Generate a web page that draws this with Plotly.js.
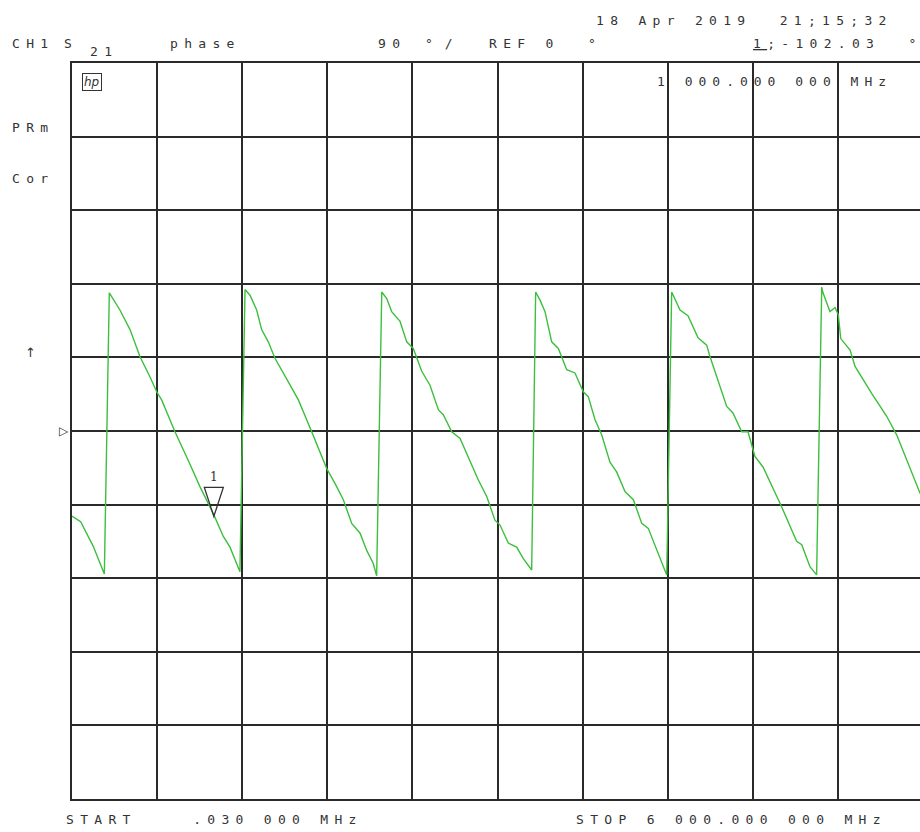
<!DOCTYPE html>
<html>
<head>
<meta charset="utf-8">
<script src="https://cdn.plot.ly/plotly-3.0.1.min.js"></script>
<style>html,body{margin:0;padding:0;background:#fff;}#chart{width:920px;height:832px;}</style>
</head>
<body>
<div id="chart"></div>
<script>
// Frequency (MHz) of each trace point
const freqMHz = [
  0.03, 61, 150, 228,
  263, 338, 409, 479, 550, 597, 632, 726, 820, 902, 996, 1067, 1114, 1184,
  1220, 1255, 1302, 1337, 1384, 1431, 1525, 1596, 1690, 1796, 1854, 1913, 1972, 2031, 2078, 2124, 2148,
  2184, 2219, 2254, 2313, 2360, 2406, 2466, 2524, 2583, 2618, 2677, 2736, 2806, 2865, 2924, 2982, 3018, 3076, 3135, 3182, 3241,
  3269, 3300, 3335, 3382, 3429, 3488, 3546, 3605, 3640, 3687, 3735, 3793, 3840, 3899, 3958, 4017, 4063, 4193,
  4228, 4287, 4343, 4414, 4475, 4498, 4616, 4660, 4722, 4766, 4815, 4872, 5004, 5109, 5145, 5203, 5250,
  5286, 5295, 5344, 5380, 5403, 5420, 5486, 5521, 5638, 5744, 5815, 5944, 5979, 6000
];
// S21 phase (degrees)
const phaseDeg = [
  -104, -111, -141, -175,
  169, 148, 124, 91, 66, 48, 38, -1, -36, -68, -101, -129, -142, -172,
  173, 166, 148, 124, 109, 89, 60, 38, -1, -46, -64, -84, -113, -125, -146, -162, -177,
  170, 162, 146, 134, 109, 101, 73, 56, 26, 20, -1, -9, -36, -60, -80, -109, -115, -137, -142, -156, -170,
  170, 160, 146, 109, 101, 75, 71, 48, 42, 14, -5, -38, -50, -74, -84, -113, -119, -176,
  170, 148, 141, 114, 105, 91, 30, 22, -1, -1, -31, -44, -93, -135, -139, -166, -176,
  176, 169, 146, 151, 142, 113, 99, 79, 46, 18, -5, -62, -76, -79
];
// Marker 1
const markerFreq = 1000;
const markerPhase = -102.03;

// Scale settings
const startMHz = 0.03, stopMHz = 6000;
const degPerDiv = 90, refDeg = 0;

const PL = 72, PT = 63, PW = 848, PH = 736;
const mono = 'DejaVu Sans Mono';
const txtColor = '#333';
function sp(t, ls){
  ls = ls || 6.3;
  return '<span style="letter-spacing:' + ls + 'px">' + t.slice(0, -1) + '</span>' + t.slice(-1);
}
function ann(text, px, py, opts){
  return Object.assign({
    text: text, xref: 'paper', yref: 'paper',
    x: (px - PL) / PW, y: (PT + PH - py) / PH,
    xanchor: 'left', yanchor: 'middle', showarrow: false,
    font: {family: mono, size: 13, color: txtColor}
  }, opts || {});
}

const annotations = [
  ann(sp('CH1'), 10, 44),
  ann(sp('S'), 62, 44),
  ann(sp('21'), 88, 52),
  ann(sp('phase'), 168, 44),
  ann(sp('90'), 376, 44),
  ann(sp('°/', 12), 423, 44),
  ann(sp('REF 0  °'), 487, 44),
  ann(sp('18 Apr 2019  21;15;32'), 594, 21),
  ann('<span style="letter-spacing:6.3px"><span style="text-decoration:underline">1</span>;-102.03  </span>°', 751, 44),
  ann(sp('1 000.000 000 MHz', 6.0), 655, 82),
  ann(sp('PRm'), 10, 128),
  ann(sp('Cor'), 10, 178),
  ann('↑', 23, 352, {font: {family: 'DejaVu Sans', size: 13, color: txtColor}}),
  ann('▷', 71, 431, {xanchor: 'right', font: {family: 'DejaVu Sans', size: 12, color: txtColor}}),
  ann('<i>hp</i>', 82, 82, {font: {family: 'DejaVu Sans', size: 12, color: txtColor}, bordercolor: txtColor, borderwidth: 1, borderpad: 1}),
  ann(sp('START    .030 000 MHz'), 64, 819),
  ann(sp('STOP 6 000.000 000 MHz'), 574, 819),
  {text: '1', xref: 'x', yref: 'y', x: markerFreq, y: markerPhase, yshift: 37, showarrow: false,
   xanchor: 'center', yanchor: 'middle', font: {family: 'DejaVu Serif', size: 12, color: txtColor}}
];

const shapes = [{
  type: 'path', xref: 'x', yref: 'y', xsizemode: 'pixel', ysizemode: 'pixel',
  xanchor: markerFreq, yanchor: markerPhase,
  path: 'M -9.5 27 L 9.5 27 L 0 -2 Z',
  line: {color: txtColor, width: 1.3}
}];

const gridC = '#2a2a2a';
const xEnd = startMHz + (stopMHz - startMHz) * (PW / 851);
const layout = {
  width: 920, height: 832,
  margin: {l: PL, r: 920 - PL - PW, t: PT, b: 832 - PT - PH, pad: 0},
  paper_bgcolor: '#fff', plot_bgcolor: '#fff',
  showlegend: false,
  xaxis: {range: [0, xEnd], tick0: 0, dtick: (stopMHz) / 10, showgrid: true, gridcolor: gridC, gridwidth: 2,
          showticklabels: false, ticks: '', zeroline: false, showline: true, linecolor: gridC, linewidth: 2, mirror: true, fixedrange: true},
  yaxis: {range: [refDeg - 5 * degPerDiv, refDeg + 5 * degPerDiv], tick0: 0, dtick: degPerDiv, showgrid: true, gridcolor: gridC, gridwidth: 2,
          showticklabels: false, ticks: '', zeroline: false, showline: true, linecolor: gridC, linewidth: 2, mirror: false, fixedrange: true},
  annotations: annotations,
  shapes: shapes
};

const traces = [{
  x: freqMHz, y: phaseDeg, type: 'scatter', mode: 'lines',
  line: {color: '#3cbf3c', width: 1.4}, hoverinfo: 'skip', cliponaxis: true
}];

Plotly.newPlot('chart', traces, layout, {staticPlot: true, displayModeBar: false});
</script>
</body>
</html>
